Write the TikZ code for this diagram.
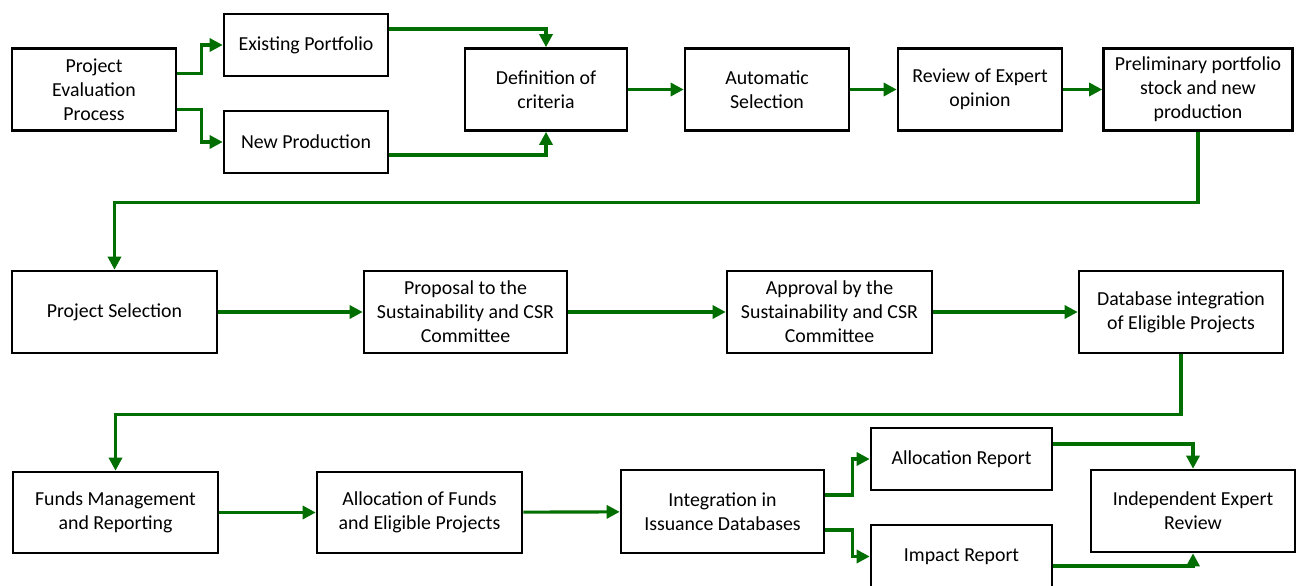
\documentclass[tikz,border=0pt]{standalone}
\usepackage{fontspec}
\setmainfont{Carlito}
\usetikzlibrary{arrows.meta}
\definecolor{flowgreen}{RGB}{0,110,0}
\tikzset{
    box/.style={draw, line width=1.5pt, minimum height=1.64cm, align=center, inner sep=2pt, font=\fontsize{11.3}{13.6}\selectfont},
    shortbox/.style={box, minimum height=1.24cm},
    flow/.style={draw=flowgreen, line width=1.8pt, -{Triangle[length=7.5pt,width=7.5pt]}}
}
\begin{document}
\begin{tikzpicture}[x=0.02cm, y=-0.02cm]

    \useasboundingbox (0,0) rectangle (1300,585);

    %first row
    \node[box, minimum width=3.28cm] (pep) at (94,89.5) {Project\\Evaluation\\Process};
    \node[shortbox, minimum width=3.28cm] (exist) at (306,45) {Existing Portfolio};
    \node[shortbox, minimum width=3.28cm] (newp) at (306,142) {New Production};
    \node[box, minimum width=3.24cm] (def) at (546,89.5) {Definition of\\criteria};
    \node[box, minimum width=3.28cm] (auto) at (767,89.5) {Automatic\\Selection};
    \node[box, minimum width=3.28cm] (review) at (980,89.5) {Review of Expert\\opinion};
    \node[box, minimum width=3.78cm] (prelim) at (1198,89.5) {Preliminary portfolio\\stock and new\\production};

    \draw[flow] ([yshift=0.32cm]pep.east) -- ++(24,0) |- (exist);
    \draw[flow] ([yshift=-0.4cm]pep.east) -- ++(24,0) |- (newp);
    \draw[flow] ([yshift=0.32cm]exist.east) -| (def);
    \draw[flow] ([yshift=-0.26cm]newp.east) -| (def);
    \draw[flow] (def) -- (auto);
    \draw[flow] (auto) -- (review);
    \draw[flow] (review) -- (prelim);

    %second row
    \node[box, minimum width=4.1cm] (sel) at (114.5,312) {Project Selection};
    \node[box, minimum width=4.06cm] (prop) at (465.5,312) {Proposal to the\\Sustainability and CSR\\Committee};
    \node[box, minimum width=4.1cm] (appr) at (829.5,312) {Approval by the\\Sustainability and CSR\\Committee};
    \node[box, minimum width=4.08cm] (db) at (1181,312) {Database integration\\of Eligible Projects};

    \draw[flow] (prelim.south) -- ++(0,71) -| (sel.north);
    \draw[flow] (sel) -- (prop);
    \draw[flow] (prop) -- (appr);
    \draw[flow] (appr) -- (db);

    %third row
    \node[box, minimum width=4.1cm, minimum height=1.62cm] (funds) at (115.5,512.5) {Funds Management\\and Reporting};
    \node[box, minimum width=4.1cm, minimum height=1.62cm] (afund) at (419.5,512.5) {Allocation of Funds\\and Eligible Projects};
    \node[box, minimum width=4.06cm, minimum height=1.66cm] (integ) at (722.5,511.5) {Integration in\\Issuance Databases};
    \node[shortbox, minimum width=3.62cm] (arep) at (961.5,459) {Allocation Report};
    \node[shortbox, minimum width=3.62cm, minimum height=1.26cm] (impact) at (961.5,556.5) {Impact Report};
    \node[box, minimum width=4.08cm] (ier) at (1193,511) {Independent Expert\\Review};

    \draw[flow] (db.south) -- ++(0,60) -| (funds.north);
    \draw[flow] (funds) -- (afund);
    \draw[flow] (afund) -- (integ);
    \draw[flow] ([yshift=0.33cm]integ.east) -- ++(27,0) |- (arep);
    \draw[flow] ([yshift=-0.37cm]integ.east) -- ++(27,0) |- (impact);
    \draw[flow] ([yshift=0.3cm]arep.east) -| (ier);
    \draw[flow] ([yshift=-0.19cm]impact.east) -| (ier);

\end{tikzpicture}
\end{document}
